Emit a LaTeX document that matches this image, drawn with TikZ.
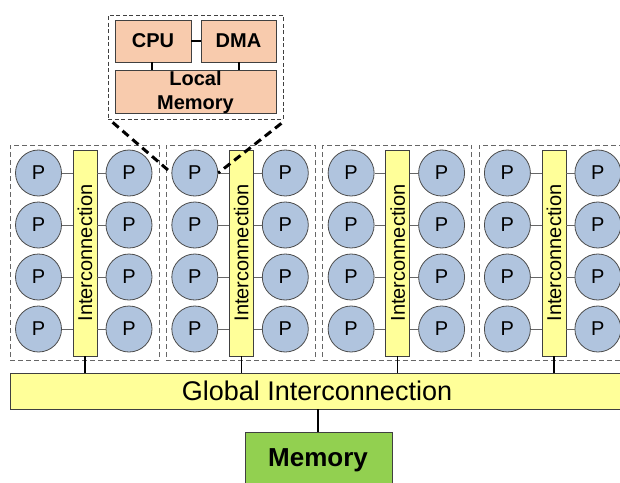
\documentclass[tikz,border=0pt]{standalone}
\usepackage{fontspec}
\setmainfont{Liberation Sans}
\definecolor{procblue}{RGB}{176,196,222}
\definecolor{busyellow}{RGB}{255,255,153}
\definecolor{peach}{RGB}{248,203,173}
\definecolor{memgreen}{RGB}{146,208,80}
\begin{document}
\begin{tikzpicture}[x=1pt,y=-1pt,
  proc/.style={circle, draw=black!70, fill=procblue, line width=0.8pt,
    minimum size=46pt, inner sep=0pt, font=\fontsize{20}{24}\selectfont},
  ibus/.style={rectangle, draw=black!75, fill=busyellow, line width=0.8pt,
    rotate=90, minimum width=206pt, minimum height=24pt, inner sep=0pt,
    font=\fontsize{20}{24}\selectfont},
  cluster/.style={rectangle, draw=black!60, dash pattern=on 5pt off 3pt,
    line width=0.7pt, minimum width=149pt, minimum height=215pt, inner sep=0pt},
  unit/.style={rectangle, draw=black!75, fill=peach, line width=0.8pt,
    inner sep=0pt, font=\fontsize{20}{24}\selectfont\bfseries},
  link/.style={draw=black!60, line width=0.8pt},
  wire/.style={draw=black, line width=1.3pt},
  zoomline/.style={draw=black, line width=3pt, dash pattern=on 8pt off 5pt}
]
\useasboundingbox (0,0) rectangle (620,482);
\clip (0,0) rectangle (620,482);

% four processor clusters
\foreach \i in {1,...,4}{
  \pgfmathsetmacro{\L}{10+156.3*(\i-1)}
  \node[cluster] (cl\i) at (\L+74.5,252.5) {};
  \node[ibus] (bar\i) at (\L+75,253) {Interconnection};
  \foreach \j in {1,...,4}{
    \pgfmathsetmacro{\Y}{173+52*(\j-1)}
    \node[proc] (p\i l\j) at (\L+28.5,\Y) {P};
    \node[proc] (p\i r\j) at (\L+119,\Y) {P};
    \draw[link] (p\i l\j.east) -- (p\i l\j.east -| bar\i.north);
    \draw[link] (p\i r\j.west) -- (p\i r\j.west -| bar\i.south);
  }
}

% global interconnection and shared memory
\node[rectangle, draw=black!75, fill=busyellow, line width=0.8pt,
  minimum width=640pt, minimum height=36pt, inner sep=0pt] (glob) at (330,391) {};
\node[font=\fontsize{27}{32}\selectfont] (globtext) at (317,391) {Global Interconnection};
\foreach \i in {1,...,4}{
  \draw[wire] (bar\i.west) -- (bar\i.west |- glob.north);
}
\node[rectangle, draw=black!75, fill=memgreen, line width=0.8pt,
  minimum width=147pt, minimum height=70pt, inner sep=0pt] (mem) at (318.5,467) {};
\node[font=\fontsize{26}{30}\selectfont\bfseries, anchor=base] (memtext) at (318,466) {Memory};
\draw[wire] (glob.south -| 318,0) coordinate (gm) -- (gm |- mem.north);

% detail of one processing element
\node[rectangle, draw=black!75, dash pattern=on 4pt off 2.5pt, line width=0.7pt,
  minimum width=175pt, minimum height=104pt, inner sep=0pt] (zb) at (195.5,67) {};
\node[unit, minimum width=76pt, minimum height=42pt] (cpu) at (153,41) {CPU};
\node[unit, minimum width=75pt, minimum height=42pt] (dma) at (238.5,41) {DMA};
\node[unit, minimum width=161pt, minimum height=42pt, align=center] (lmem) at (195.5,92) {Local\\Memory};
\draw[wire] (cpu.east) -- (dma.west);
\draw[wire] (cpu.south -| 152,0) coordinate (c1) -- (c1 |- lmem.north);
\draw[wire] (dma.south -| 239,0) coordinate (c2) -- (c2 |- lmem.north);

% zoom lines to the detailed processor
\draw[zoomline] ([shift={(5,3)}]zb.south west) -- (p2l1.west);
\draw[zoomline] ([shift={(-2,4)}]zb.south east) -- (p2l1.east);
\end{tikzpicture}
\end{document}
